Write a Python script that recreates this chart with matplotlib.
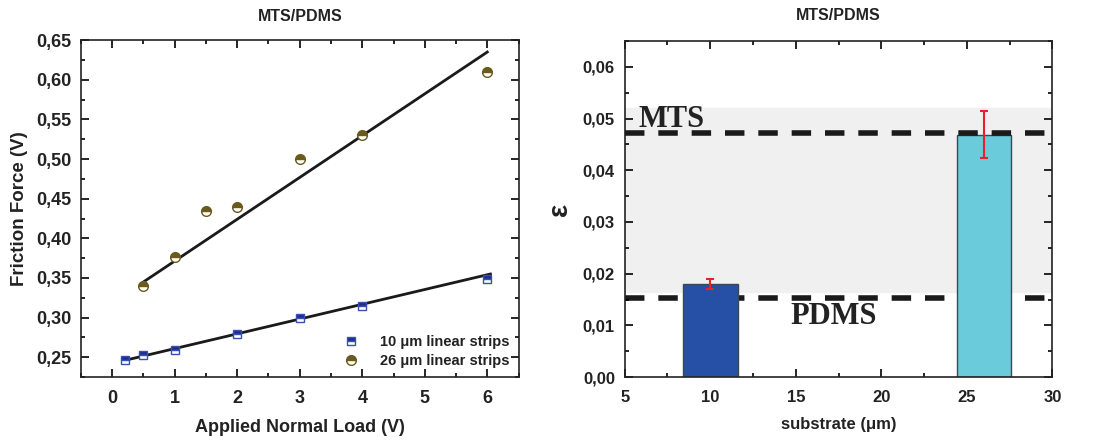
import numpy as np
import matplotlib.pyplot as plt
from matplotlib.ticker import FuncFormatter, MultipleLocator

plt.rcParams['font.family'] = ['Liberation Sans', 'DejaVu Sans']
plt.rcParams['font.weight'] = 'bold'

# left panel data
load_10 = [0.2, 0.5, 1, 2, 3, 4, 6]
fric_10 = [0.247, 0.253, 0.259, 0.279, 0.300, 0.315, 0.349]
load_26 = [0.5, 1, 1.5, 2, 3, 4, 6]
fric_26 = [0.340, 0.376, 0.435, 0.439, 0.500, 0.530, 0.610]
fit10_x = [0.2, 6.05]
fit10_y = [0.246, 0.355]
fit26_x = [0.5, 6.0]
fit26_y = [0.345, 0.635]

# right panel data
substrate = [10, 26]
eps = [0.018, 0.0469]
eps_err = [0.00097, 0.0046]
bar_colors = ['#2550a5', '#6acbdb']
mts_level = 0.0472
pdms_level = 0.0153
band = [0.0165, 0.0521]


def comma(v, pos):
    return ('%.2f' % v).replace('.', ',')


def style_ax(ax, size):
    ax.tick_params(which='both', direction='in', top=True, right=True, labelsize=size, width=1.2)
    ax.tick_params(which='major', length=6)
    ax.tick_params(which='minor', length=3)
    ax.tick_params(axis='x', which='major', pad=9)
    ax.tick_params(axis='y', which='major', pad=7)
    for s in ax.spines.values():
        s.set_linewidth(1.2)
        s.set_color('#222222')
    for lab in ax.get_xticklabels() + ax.get_yticklabels():
        lab.set_fontweight('bold')
        lab.set_color('#222222')


fig = plt.figure(figsize=(10.94, 4.41), dpi=100)
ax1 = fig.add_axes([0.074, 0.145, 0.4, 0.764])
ax2 = fig.add_axes([0.571, 0.145, 0.391, 0.762])

# left
ax1.plot(fit10_x, fit10_y, color='#1a1a1a', lw=2)
ax1.plot(fit26_x, fit26_y, color='#1a1a1a', lw=2)
ax1.plot(load_10, fric_10, 's', ls='none', ms=6, color='#1f2d8a', mec='#3a4fb0',
         fillstyle='top', markerfacecoloralt='white', label='10 \u03bcm linear strips')
ax1.plot(load_26, fric_26, 'o', ls='none', ms=7, color='#6b5a1e', mec='#6b5a1e',
         fillstyle='top', markerfacecoloralt='white', label='26 \u03bcm linear strips')
ax1.set_xlim(-0.5, 6.5)
ax1.set_ylim(0.225, 0.65)
ax1.xaxis.set_major_locator(MultipleLocator(1))
ax1.xaxis.set_minor_locator(MultipleLocator(0.5))
ax1.yaxis.set_major_locator(MultipleLocator(0.05))
ax1.yaxis.set_minor_locator(MultipleLocator(0.025))
ax1.yaxis.set_major_formatter(FuncFormatter(comma))
ax1.set_xlabel('Applied Normal Load (V)', fontsize=13, fontweight='bold', labelpad=9, color='#222222')
ax1.set_ylabel('Friction Force (V)', fontsize=13.5, fontweight='bold', labelpad=6, color='#222222')
ax1.set_title('MTS/PDMS', fontsize=11.5, fontweight='bold', pad=14, color='#222222')
leg = ax1.legend(loc='lower right', frameon=False, fontsize=10.5, handletextpad=1.0,
                 borderaxespad=0.2, labelspacing=0.35)
for t in leg.get_texts():
    t.set_fontweight('bold')
    t.set_color('#222222')
style_ax(ax1, 13)

# right
ax2.axhspan(band[0], band[1], color='#f0f0f0', zorder=0)
ax2.bar(substrate, eps, width=3.2, color=bar_colors, edgecolor='#3a4a50', lw=1, zorder=2)
ax2.errorbar(substrate, eps, yerr=eps_err, fmt='none', ecolor='#e8202a', elinewidth=1.5,
             capsize=3, capthick=1.5, zorder=4)
ax2.axhline(mts_level, color='#1a1a1a', lw=4, ls=(0, (3.5, 2.5)), zorder=3)
ax2.axhline(pdms_level, color='#1a1a1a', lw=4, ls=(0, (3.5, 2.5)), zorder=1)
ax2.text(5.8, 0.0498, 'MTS', family=['Liberation Serif', 'DejaVu Serif'], fontsize=22,
         fontweight='bold', color='#222222', va='center', ha='left', zorder=5)
ax2.text(14.7, 0.0118, 'PDMS', family=['Liberation Serif', 'DejaVu Serif'], fontsize=22,
         fontweight='bold', color='#222222', va='center', ha='left', zorder=5)
ax2.set_xlim(5, 30)
ax2.set_ylim(0, 0.065)
ax2.xaxis.set_major_locator(MultipleLocator(5))
ax2.xaxis.set_minor_locator(MultipleLocator(2.5))
ax2.yaxis.set_major_locator(MultipleLocator(0.01))
ax2.yaxis.set_minor_locator(MultipleLocator(0.005))
ax2.yaxis.set_major_formatter(FuncFormatter(comma))
ax2.set_xlabel('substrate (\u03bcm)', fontsize=12, fontweight='bold', labelpad=9, color='#222222')
ax2.set_ylabel('\u03b5', fontsize=20, fontweight='bold', labelpad=7, color='#222222')
ax2.set_title('MTS/PDMS', fontsize=11.5, fontweight='bold', pad=15, color='#222222')
style_ax(ax2, 12)

fig.savefig('out.png', dpi=100)
